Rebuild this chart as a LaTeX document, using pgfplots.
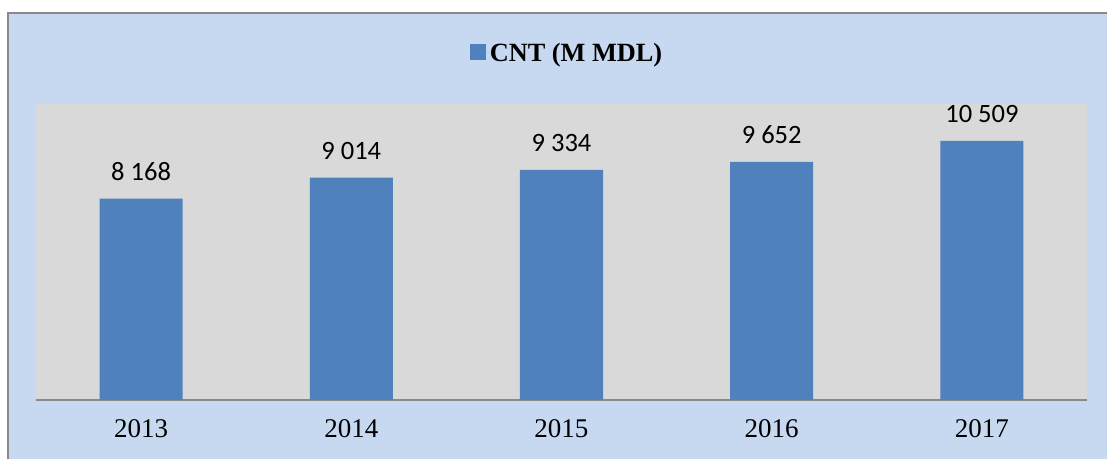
\documentclass[border=0pt]{standalone}
\usepackage{pgfplots}
\pgfplotsset{compat=1.18}
\usepackage{fontspec}
\setmainfont{Liberation Serif}
\newfontfamily\carlito{Carlito}
\definecolor{bgblue}{HTML}{C6D9F1}
\definecolor{plotgray}{HTML}{D9D9D9}
\definecolor{barblue}{HTML}{4F81BD}
\definecolor{framegray}{HTML}{898989}
\begin{document}
\begin{tikzpicture}[x=1bp,y=1bp]
\useasboundingbox (0,0) rectangle (1107,459);
\fill[white] (0,0) rectangle (1107,459);
\fill[bgblue] (8,0) rectangle (1107,446);
\draw[framegray, line width=2.5bp] (8,0) -- (8,446) -- (1107,446);
\begin{axis}[
  at={(36bp,59bp)}, anchor=south west,
  scale only axis, width=1051bp, height=296bp,
  xmin=-0.5, xmax=4.5, ymin=0, ymax=12000,
  axis x line=bottom, axis y line=none,
  axis line style={-, framegray, line width=1.5bp},
  axis background/.style={fill=plotgray},
  ybar, bar width=83bp,
  xtick={0,1,2,3,4},
  xticklabels={2013,2014,2015,2016,2017},
  major tick length=0pt,
  xtick style={draw=none},
  xticklabel style={font=\fontsize{27bp}{32bp}\selectfont, inner sep=0pt, yshift=-19bp},
  point meta=explicit symbolic,
  nodes near coords,
  every node near coord/.append style={font=\carlito\fontsize{26.5bp}{30bp}\selectfont, inner sep=0pt, yshift=18bp, text=black},
  legend style={at={(0.5043,1.173)}, anchor=center, draw=none, fill=none,
    font=\bfseries\fontsize{26.3bp}{30bp}\selectfont, inner sep=0pt,
    nodes={inner sep=0pt}},
  legend image code/.code={\fill[barblue] (0bp,-7bp) rectangle (16bp,9bp); \path (0bp,0bp) -- (20bp,0bp);},
]
\addplot[fill=barblue, draw=none] table[col sep=comma, x=x, y=y, meta=l] {
x,y,l
0,8168,8 168
1,9014,9 014
2,9334,9 334
3,9652,9 652
4,10509,10 509
};
\addlegendentry{CNT (M MDL)}
\end{axis}
\end{tikzpicture}
\end{document}
